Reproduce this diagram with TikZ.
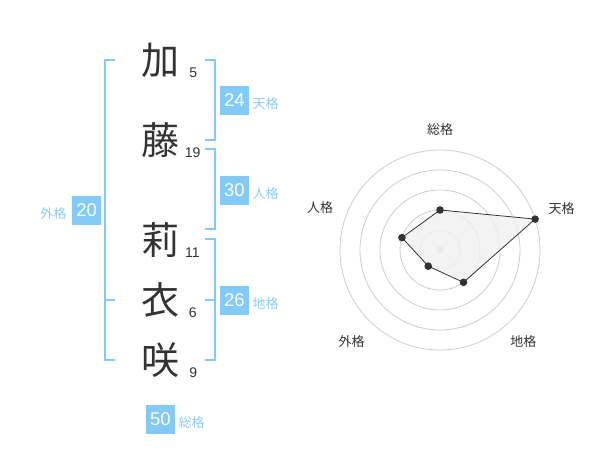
\documentclass[tikz,border=0pt]{standalone}
\usepackage{fontspec}
\setmainfont{Liberation Sans}
\newfontfamily\jp{Noto Sans CJK JP}
\definecolor{kakublau}{RGB}{130,202,250}
\definecolor{kakutext}{RGB}{140,205,245}
\definecolor{schrift}{RGB}{51,51,51}
\definecolor{kreis}{RGB}{205,205,205}
\definecolor{flaeche}{RGB}{240,240,240}
\tikzset{
    kanji/.style={text=schrift, font=\jp\fontsize{38}{38}\selectfont, inner sep=0pt},
    strich/.style={text=schrift, font=\fontsize{14}{14}\selectfont, inner sep=0pt},
    wertbox/.style={fill=kakublau, text=white, font=\fontsize{18.5}{18.5}\selectfont,
        minimum size=28.5pt, inner sep=0pt},
    kakuname/.style={text=kakutext, font=\jp\fontsize{13}{13}\selectfont, inner sep=0pt},
    klammer/.style={draw=kakublau, line width=2pt},
    achsname/.style={text=schrift, font=\jp\fontsize{13}{13}\selectfont, inner sep=0pt},
    punkt/.style={fill=schrift}
}
\begin{document}
\begin{tikzpicture}[x=1pt, y=-1pt]
\useasboundingbox (0,0) rectangle (600,470);

%Name
    %Zeichen
    \node[kanji] (ka) at (160,60) {加};
    \node[kanji] (to) at (160,140) {藤};
    \node[kanji] (ri) at (160,240) {莉};
    \node[kanji] (i) at (160,300) {衣};
    \node[kanji] (saki) at (160,360) {咲};

    %Striche
    \node[strich] (nka) at (193.3,72.7) {5};
    \node[strich] (nto) at (192.7,152.7) {19};
    \node[strich] (nri) at (192.3,252.7) {11};
    \node[strich] (ni) at (192.7,312.7) {6};
    \node[strich] (nsaki) at (193.3,372.7) {9};

    %Klammern
    \draw[klammer] (115,60) -- (105,60) -- (105,360) -- (115,360);
    \draw[klammer] (105,300) -- (115,300);
    \draw[klammer] (205,60) -- (215,60) -- (215,140) -- (205,140);
    \draw[klammer] (205,149.3) -- (215,149.3) -- (215,229.3) -- (205,229.3);
    \draw[klammer] (205,239.3) -- (215,239.3) -- (215,360) -- (205,360);
    \draw[klammer] (205,300) -- (215,300);

    %Werte
    \node[wertbox] (ten) at (234.3,100.3) {24};
    \node[kakuname] (lten) at (265.7,104) {天格};
    \node[wertbox] (jin) at (234.3,190.3) {30};
    \node[kakuname] (ljin) at (265.7,194) {人格};
    \node[wertbox] (chi) at (234.3,300.3) {26};
    \node[kakuname] (lchi) at (265.7,304) {地格};
    \node[wertbox] (gai) at (86.7,210.3) {20};
    \node[kakuname] (lgai) at (53.3,214) {外格};
    \node[wertbox] (sou) at (160.3,419.3) {50};
    \node[kakuname] (lsou) at (191.7,422.3) {総格};

%Netzdiagramm
\begin{scope}[shift={(440,250)}]
    %Kreise
    \foreach \r in {20,40,...,100}{
        \draw[kreis, line width=0.8pt] (0,0) circle (\r pt);}
    \fill[kreis] (0,0) circle (3.5pt);

    %Werte
    \coordinate (psou) at (90:40pt);
    \coordinate (pten) at (18:100pt);
    \coordinate (pchi) at (-54:40pt);
    \coordinate (pgai) at (-126:20pt);
    \coordinate (pjin) at (162:40pt);
    \filldraw[fill=flaeche, fill opacity=0.8, draw=schrift, line width=0.8pt]
        (psou) -- (pten) -- (pchi) -- (pgai) -- (pjin) -- cycle;
    \foreach \p in {psou,pten,pchi,pgai,pjin}{
        \fill[punkt] (\p) circle (3.8pt);}
\end{scope}

    %Beschriftung
    \node[achsname] (asou) at (440,130) {総格};
    \node[achsname] (aten) at (561.7,208.3) {天格};
    \node[achsname] (ajin) at (320,208) {人格};
    \node[achsname] (agai) at (351.7,341.7) {外格};
    \node[achsname] (achi) at (523.3,341.7) {地格};

\end{tikzpicture}
\end{document}
